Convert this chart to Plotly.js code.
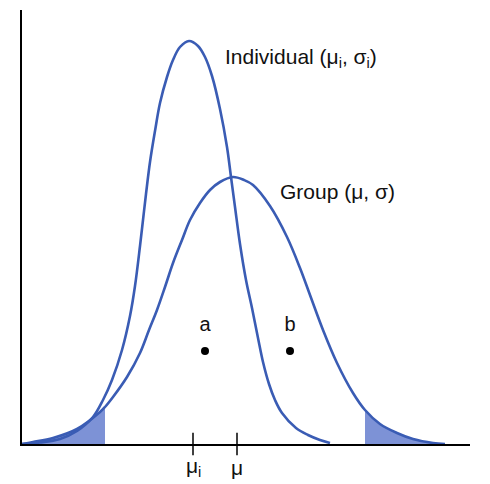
<!DOCTYPE html>
<html>
<head>
<meta charset="utf-8">
<script src="https://cdn.plot.ly/plotly-3.0.1.min.js"></script>
<style>html,body{margin:0;padding:0;background:#fff;}#chart{width:490px;height:484px;}</style>
</head>
<body>
<div id="chart"></div>
<script>
// Individual distribution curve
const indX = [0, 18, 38, 55, 71, 81, 90, 100, 108, 113, 118, 121, 124, 128, 133, 138, 145, 151, 158, 167, 176, 183, 190, 198, 205, 209, 213, 218, 224, 230, 236, 241, 247, 253, 260, 274, 286, 298, 308];
const indY = [0, 1.5, 5, 13, 27, 44, 64, 94, 128, 158, 198, 224, 250, 282, 313, 341, 367, 384, 397, 403, 398, 387, 368, 335, 297, 267, 237, 200, 164, 136, 106, 82, 60, 44, 31, 16, 9, 4, 1];
// Group distribution curve
const grpX = [0, 11, 31, 55, 78, 83, 91, 105, 118, 127, 135, 143, 151, 160, 168, 178, 188, 198, 211, 222, 231, 248, 265, 278, 288, 301, 315, 331, 343, 358, 375, 391, 411, 423];
const grpY = [0, 2, 6, 15, 32, 37, 47, 67, 91, 114, 134, 157, 181, 204, 224, 241, 254, 262, 267, 264, 259, 238, 207, 176, 149, 114, 81, 51, 34, 20, 11, 5, 1, 0];
// Tail cut-offs for shaded areas
const leftCut = 83;
const rightCut = 343;
// Means on the x axis
const tickVals = [171, 215];
const tickText = ['μ<sub>i</sub>', 'μ'];
// Points a and b
const ptX = [183, 268];
const ptY = [93, 93];
const ptLabelY = [118, 118];
const ptLabels = ['a', 'b'];
// Curve labels
const curveLabels = ['Individual (μ<sub>i</sub>, σ<sub>i</sub>)', 'Group (μ, σ)'];
const curveLabelX = [201, 256];
const curveLabelY = [386, 253];

const lineColor = '#3a5cb4';
const fillColor = 'rgba(118,140,212,0.95)';

const lX = [], lY = [], rX = [], rY = [];
grpX.forEach((x, i) => {
  if (x <= leftCut) { lX.push(x); lY.push(grpY[i]); }
  if (x >= rightCut) { rX.push(x); rY.push(grpY[i]); }
});

const traces = [
  {x: lX, y: lY, mode: 'lines', fill: 'tozeroy', fillcolor: fillColor, line: {width: 0, shape: 'spline'}, hoverinfo: 'skip'},
  {x: rX, y: rY, mode: 'lines', fill: 'tozeroy', fillcolor: fillColor, line: {width: 0, shape: 'spline'}, hoverinfo: 'skip'},
  {x: grpX, y: grpY, mode: 'lines', line: {color: lineColor, width: 2.6, shape: 'spline', smoothing: 1}},
  {x: indX, y: indY, mode: 'lines', line: {color: lineColor, width: 2.6, shape: 'spline', smoothing: 1}},
  {x: ptX, y: ptY, mode: 'markers', marker: {color: '#000', size: 8}},
  {x: ptX, y: ptLabelY, mode: 'text', text: ptLabels, textfont: {size: 20, color: '#111'}},
  {x: tickVals, y: [0, 0], mode: 'markers', cliponaxis: false,
   marker: {symbol: 'line-ns', size: 16, line: {color: '#000', width: 1.5}}}
];

const annotations = tickVals.map((v, i) => ({
  x: v, xref: 'x', y: -0.054, yref: 'paper', text: tickText[i], showarrow: false,
  xanchor: 'center', yanchor: 'middle', font: {size: 21, color: '#111'}
})).concat(curveLabels.map((t, i) => ({
  x: curveLabelX[i], y: curveLabelY[i], xref: 'x', yref: 'y', text: t, showarrow: false,
  xanchor: 'left', yanchor: 'middle', font: {size: 21, color: '#111'}
})));

const layout = {
  width: 490, height: 484,
  margin: {l: 22, r: 20, t: 10, b: 40},
  paper_bgcolor: '#fff', plot_bgcolor: '#fff',
  showlegend: false,
  font: {family: 'Liberation Sans, Arial, sans-serif', color: '#111'},
  xaxis: {range: [0, 448], showline: true, linecolor: '#000', linewidth: 2, showgrid: false, zeroline: false, showticklabels: false, ticks: ''},
  yaxis: {range: [0, 434], showline: true, linecolor: '#000', linewidth: 2, showgrid: false, zeroline: false, showticklabels: false, ticks: ''},
  annotations: annotations
};

Plotly.newPlot('chart', traces, layout, {staticPlot: true});
</script>
</body>
</html>
